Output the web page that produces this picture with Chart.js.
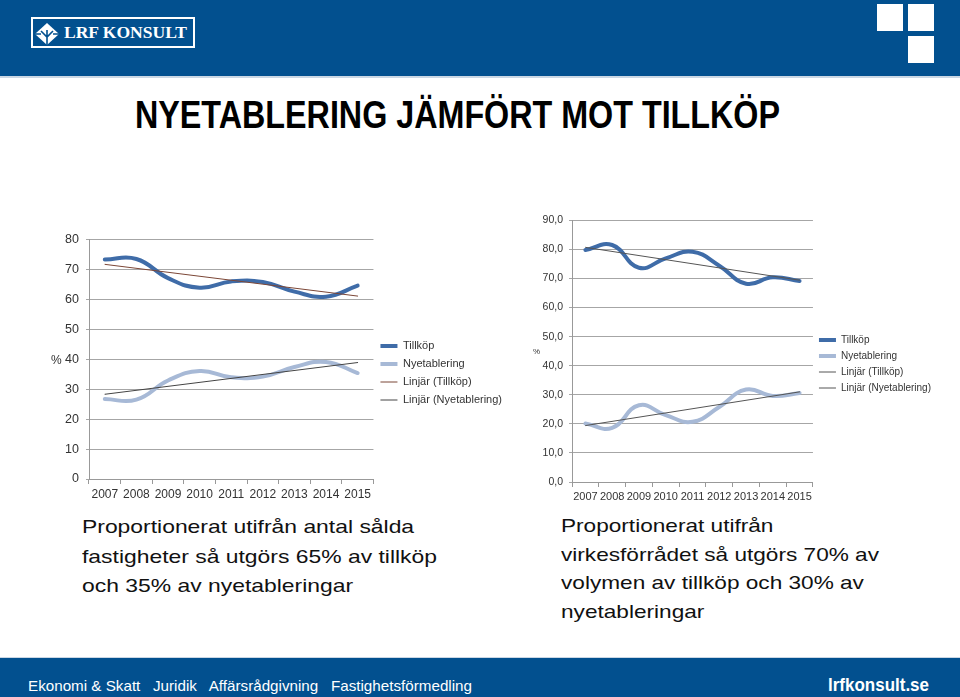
<!DOCTYPE html>
<html>
<head>
<meta charset="utf-8">
<script src="https://cdn.jsdelivr.net/npm/chart.js@4"></script>
<style>
  body { margin: 0; width: 960px; height: 697px; position: relative; overflow: hidden; background: #fff; font-family: "Liberation Sans", Arial, sans-serif; }
  .band { position: absolute; left: 0; width: 960px; background: #02508f; }
  .sq { position: absolute; background: #fff; width: 26px; height: 27px; }
  .txt { position: absolute; display: inline-block; white-space: nowrap; transform-origin: 0 0; }
  .logo { position: absolute; left: 31px; top: 17px; width: 160px; height: 27px; border: 2px solid #fff; }
  canvas { position: absolute; }
</style>
</head>
<body>
<div class="band" style="top:0;height:76px;border-bottom:2px solid #cbd7e4"></div>
<div class="logo"></div>
<svg style="position:absolute;left:33px;top:22px" width="28" height="24" viewBox="0 0 28 24">
  <polygon points="14,1 26,12 14,23 2,12" fill="#fff"/>
  <path d="M14 8 L14 23 M8 9 L14 15 L20 9 M2 12 L8 12 M20 12 L26 12" stroke="#02508f" stroke-width="1.6" fill="none"/>
</svg>
<div class="txt" data-w="123" style="left:64px;top:24px;font:bold 16.5px/18px 'Liberation Serif',serif;color:#fff">LRF KONSULT</div>
<div class="sq" style="left:877px;top:4px"></div>
<div class="sq" style="left:908px;top:4px"></div>
<div class="sq" style="left:908px;top:36px"></div>

<div class="txt" data-w="645" style="left:135px;top:95px;font:bold 39px/39px 'Liberation Sans',sans-serif;color:#000">NYETABLERING JÄMFÖRT MOT TILLKÖP</div>

<canvas id="antal" width="490" height="282" style="left:40px;top:225px"></canvas>
<canvas id="volym" width="430" height="300" style="left:520px;top:208px"></canvas>
<div class="txt" style="left:51px;top:353px;font:12px/14px 'Liberation Sans',sans-serif;color:#333">%</div>
<div class="txt" style="left:533px;top:347px;font:8px/10px 'Liberation Sans',sans-serif;color:#333">%</div>

<div class="txt" data-w="355" style="left:82px;top:512px;font:19px/29.5px 'Liberation Sans',sans-serif;color:#111">Proportionerat utifrån antal sålda<br>fastigheter så utgörs 65% av tillköp<br>och 35% av nyetableringar</div>
<div class="txt" data-w="318" style="left:561px;top:512px;font:19px/28.5px 'Liberation Sans',sans-serif;color:#111">Proportionerat utifrån<br>virkesförrådet så utgörs 70% av<br>volymen av tillköp och 30% av<br>nyetableringar</div>

<div class="band" style="top:657px;height:40px;border-top:1px solid #cbd7e4"></div>
<div class="txt" data-w="444" style="left:28px;top:678px;font:15px/15px 'Liberation Sans',sans-serif;color:#fff">Ekonomi &amp; Skatt&nbsp;&nbsp; Juridik&nbsp;&nbsp; Affärsrådgivning&nbsp;&nbsp; Fastighetsförmedling</div>
<div class="txt" data-w="101" style="left:828px;top:677px;font:bold 18px/17px 'Liberation Sans',sans-serif;color:#fff">lrfkonsult.se</div>

<script>
const years = ['2007', '2008', '2009', '2010', '2011', '2012', '2013', '2014', '2015'];

// andel av antal sålda fastigheter, %
const tillkopAntal = [73.3, 73.5, 67.1, 63.9, 66.0, 65.8, 62.6, 60.9, 64.6];
const nyetableringAntal = [26.7, 26.5, 32.9, 36.1, 34.0, 34.2, 37.4, 39.1, 35.4];
const trendTillkopAntal = [71.7, 61.1];
const trendNyetableringAntal = [28.3, 38.9];

// andel av virkesförrådet, %
const tillkopVolym = [79.8, 81.5, 73.7, 76.9, 79.2, 74.4, 68.2, 70.4, 69.1];
const nyetableringVolym = [20.1, 18.6, 26.4, 23.0, 20.7, 25.8, 31.8, 29.6, 30.6];
const trendTillkopVolym = [80.7, 69.4];
const trendNyetableringVolym = [19.4, 31.0];

const seriesNames = ['Tillköp', 'Nyetablering', 'Linjär (Tillköp)', 'Linjär (Nyetablering)'];

document.querySelectorAll('[data-w]').forEach(el => {
  const w = el.getBoundingClientRect().width;
  el.style.transform = `scaleX(${el.dataset.w / w})`;
});

function trendLine(ends) {
  return years.map((_, i) => i === 0 ? ends[0] : (i === years.length - 1 ? ends[1] : null));
}

function makeChart(id, s) {
  const ctx = document.getElementById(id).getContext('2d');
  return new Chart(ctx, {
    type: 'line',
    data: {
      labels: years,
      datasets: [
        { label: seriesNames[0], data: s.tillkop, borderColor: '#3f6ca8', borderWidth: 4, order: 2 },
        { label: seriesNames[1], data: s.ny, borderColor: '#a7b9d6', borderWidth: 4, order: 2 },
        { label: seriesNames[2], data: trendLine(s.trendT), borderColor: s.trendColorT, borderWidth: 1, tension: 0, spanGaps: true, order: 1 },
        { label: seriesNames[3], data: trendLine(s.trendN), borderColor: s.trendColorN, borderWidth: 1, tension: 0, spanGaps: true, order: 1 }
      ]
    },
    options: {
      responsive: false,
      animation: false,
      devicePixelRatio: 1,
      layout: { padding: { top: s.padTop, right: s.padRight, left: 0, bottom: 0 } },
      elements: {
        line: { tension: 0.45, fill: false, borderCapStyle: 'round' },
        point: { radius: 0, pointStyle: 'line' }
      },
      plugins: {
        tooltip: { enabled: false },
        legend: {
          position: 'right',
          maxWidth: 170,
          labels: {
            usePointStyle: true,
            pointStyleWidth: 17,
            padding: s.legendPad,
            color: '#333',
            font: { family: 'Liberation Sans', size: s.legendSize },
            sort: (a, b) => a.datasetIndex - b.datasetIndex
          }
        }
      },
      scales: {
        x: {
          offset: true,
          afterFit: sc => { sc.height = s.xHeight; },
          grid: { offset: true, drawOnChartArea: false, tickLength: 5, color: '#999' },
          border: { color: '#999' },
          ticks: { color: '#333', padding: 3, maxRotation: 0, autoSkip: false, font: { family: 'Liberation Sans', size: s.xSize } }
        },
        y: {
          min: 0,
          max: s.max,
          afterFit: sc => { sc.width = s.yWidth; },
          grid: { color: '#a6a6a6', tickLength: 3 },
          border: { color: '#999' },
          ticks: {
            stepSize: 10,
            color: '#333',
            padding: s.yPad,
            font: { family: 'Liberation Sans', size: s.ySize },
            callback: s.fmt
          }
        }
      }
    }
  });
}

makeChart('antal', {
  tillkop: tillkopAntal, ny: nyetableringAntal,
  trendT: trendTillkopAntal, trendN: trendNyetableringAntal,
  trendColorT: '#7b4636', trendColorN: '#444',
  max: 80, padTop: 14, padRight: 18, xHeight: 28, yWidth: 49, yPad: 7,
  xSize: 12, ySize: 12.5, legendSize: 11, legendPad: 7,
  fmt: v => String(v)
});

makeChart('volym', {
  tillkop: tillkopVolym, ny: nyetableringVolym,
  trendT: trendTillkopVolym, trendN: trendNyetableringVolym,
  trendColorT: '#555', trendColorN: '#555',
  max: 90, padTop: 12, padRight: 9, xHeight: 26, yWidth: 52, yPad: 6,
  xSize: 11, ySize: 10.5, legendSize: 10, legendPad: 6,
  fmt: v => v.toFixed(1).replace('.', ',')
});
</script>
</body>
</html>
